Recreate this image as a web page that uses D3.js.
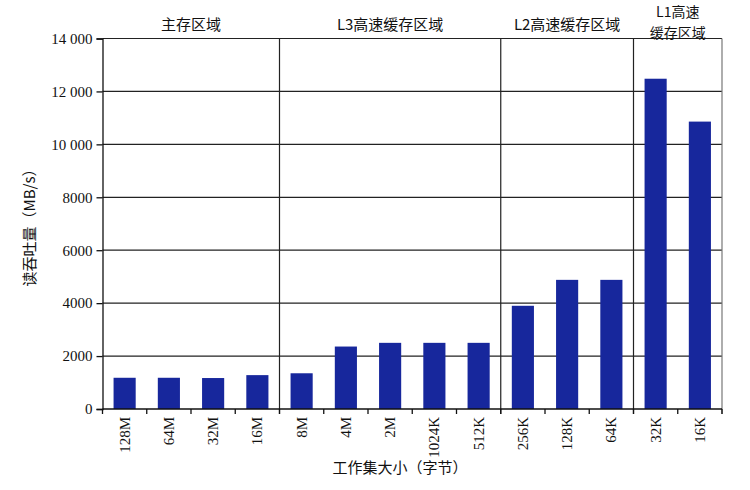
<!DOCTYPE html>
<html>
<head>
<meta charset="utf-8">
<script src="https://cdn.jsdelivr.net/npm/d3@7"></script>
<style>
  body { margin: 0; background: #fff; }
  .serif { font-family: "Liberation Serif", "DejaVu Serif", serif; }
  .cjk { font-family: "Noto Sans CJK SC", sans-serif; }
</style>
</head>
<body>
<svg id="chart" width="750" height="490"></svg>
<script>
// working set sizes and read throughput (MB/s)
var sizes = ["128M", "64M", "32M", "16M", "8M", "4M", "2M", "1024K", "512K", "256K", "128K", "64K", "32K", "16K"];
var throughput = [1180, 1180, 1170, 1280, 1350, 2360, 2500, 2500, 2500, 3900, 4880, 4880, 12480, 10860];
var yTicks = [0, 2000, 4000, 6000, 8000, 10000, 12000, 14000];
var regionNames = [["主存区域"], ["L3高速缓存区域"], ["L2高速缓存区域"], ["L1高速", "缓存区域"]];
var regionStart = [0, 4, 9, 12];
var regionEnd = [4, 9, 12, 14];

var svg = d3.select("#chart");
var plotLeft = 102.5, plotRight = 722, plotTop = 38.5, plotBottom = 409;

var x = d3.scaleBand().domain(sizes).range([plotLeft, plotRight]).paddingInner(0.5).paddingOuter(0.25);
var y = d3.scaleLinear().domain([0, 14000]).range([plotBottom, plotTop]);
var step = x.step();
function edge(i) { return plotLeft + i * step; }

// horizontal grid
svg.append("g").selectAll("line").data(yTicks.slice(1)).enter().append("line")
    .attr("x1", plotLeft).attr("x2", plotRight)
    .attr("y1", function(d) { return y(d); }).attr("y2", function(d) { return y(d); })
    .attr("stroke", "#222").attr("stroke-width", 1.2);

// right border
svg.append("line").attr("x1", plotRight).attr("x2", plotRight).attr("y1", plotTop).attr("y2", plotBottom + 5)
    .attr("stroke", "#777").attr("stroke-width", 1.2);

// region dividers
svg.append("g").selectAll("line").data(regionStart.slice(1)).enter().append("line")
    .attr("x1", function(d) { return edge(d); }).attr("x2", function(d) { return edge(d); })
    .attr("y1", plotTop).attr("y2", plotBottom + 5)
    .attr("stroke", "#222").attr("stroke-width", 1.2);

// bars
svg.append("g").selectAll("rect").data(sizes).enter().append("rect")
    .attr("x", function(d) { return x(d); })
    .attr("width", x.bandwidth())
    .attr("y", function(d, i) { return y(throughput[i]); })
    .attr("height", function(d, i) { return plotBottom - y(throughput[i]); })
    .attr("fill", "#17279c");

// y axis
var yAxis = svg.append("g").attr("transform", "translate(" + plotLeft + ",0)")
    .call(d3.axisLeft(y).tickValues(yTicks).tickSize(6).tickPadding(4)
        .tickFormat(function(d) { return d >= 10000 ? d3.format(",")(d).replace(",", " ") : d; }));
yAxis.selectAll("text").attr("class", "serif").style("font-size", "15px").attr("fill", "#111");
yAxis.selectAll("line,path").attr("stroke", "#111").attr("stroke-width", 1.3);

// x axis line and boundary ticks
svg.append("line").attr("x1", plotLeft).attr("x2", plotRight).attr("y1", plotBottom).attr("y2", plotBottom)
    .attr("stroke", "#111").attr("stroke-width", 1.3);
svg.append("g").selectAll("line").data(d3.range(sizes.length + 1)).enter().append("line")
    .attr("x1", function(d) { return edge(d); }).attr("x2", function(d) { return edge(d); })
    .attr("y1", plotBottom).attr("y2", plotBottom + 5)
    .attr("stroke", "#111").attr("stroke-width", 1.3);

// x tick labels, rotated
svg.append("g").selectAll("text").data(sizes).enter().append("text")
    .attr("class", "serif")
    .attr("transform", function(d) { return "translate(" + (x(d) + x.bandwidth() / 2 + 5) + "," + (plotBottom + 8) + ") rotate(-90)"; })
    .attr("text-anchor", "end")
    .style("font-size", "15px").attr("fill", "#111")
    .text(function(d) { return d; });

// region titles (the two-line L1 title is set a bit smaller so it fits above the plot)
regionNames.forEach(function(lines, i) {
    var cx = (edge(regionStart[i]) + edge(regionEnd[i])) / 2;
    var multi = lines.length > 1;
    var t = svg.append("text").attr("class", "cjk").attr("text-anchor", "middle")
        .style("font-size", multi ? "14px" : "15px").attr("fill", "#111");
    lines.forEach(function(s, j) {
        t.append("tspan").attr("x", cx).attr("y", multi ? 17 + j * 20.5 : 30).text(s);
    });
});

// axis titles
svg.append("text").attr("class", "cjk").attr("text-anchor", "middle")
    .attr("transform", "translate(35,224) rotate(-90)")
    .style("font-size", "15px").attr("fill", "#111")
    .text("读吞吐量（MB/s）");
svg.append("text").attr("class", "cjk").attr("text-anchor", "middle")
    .attr("x", 400).attr("y", 473)
    .style("font-size", "15px").attr("fill", "#111")
    .text("工作集大小（字节）");
</script>
</body>
</html>
